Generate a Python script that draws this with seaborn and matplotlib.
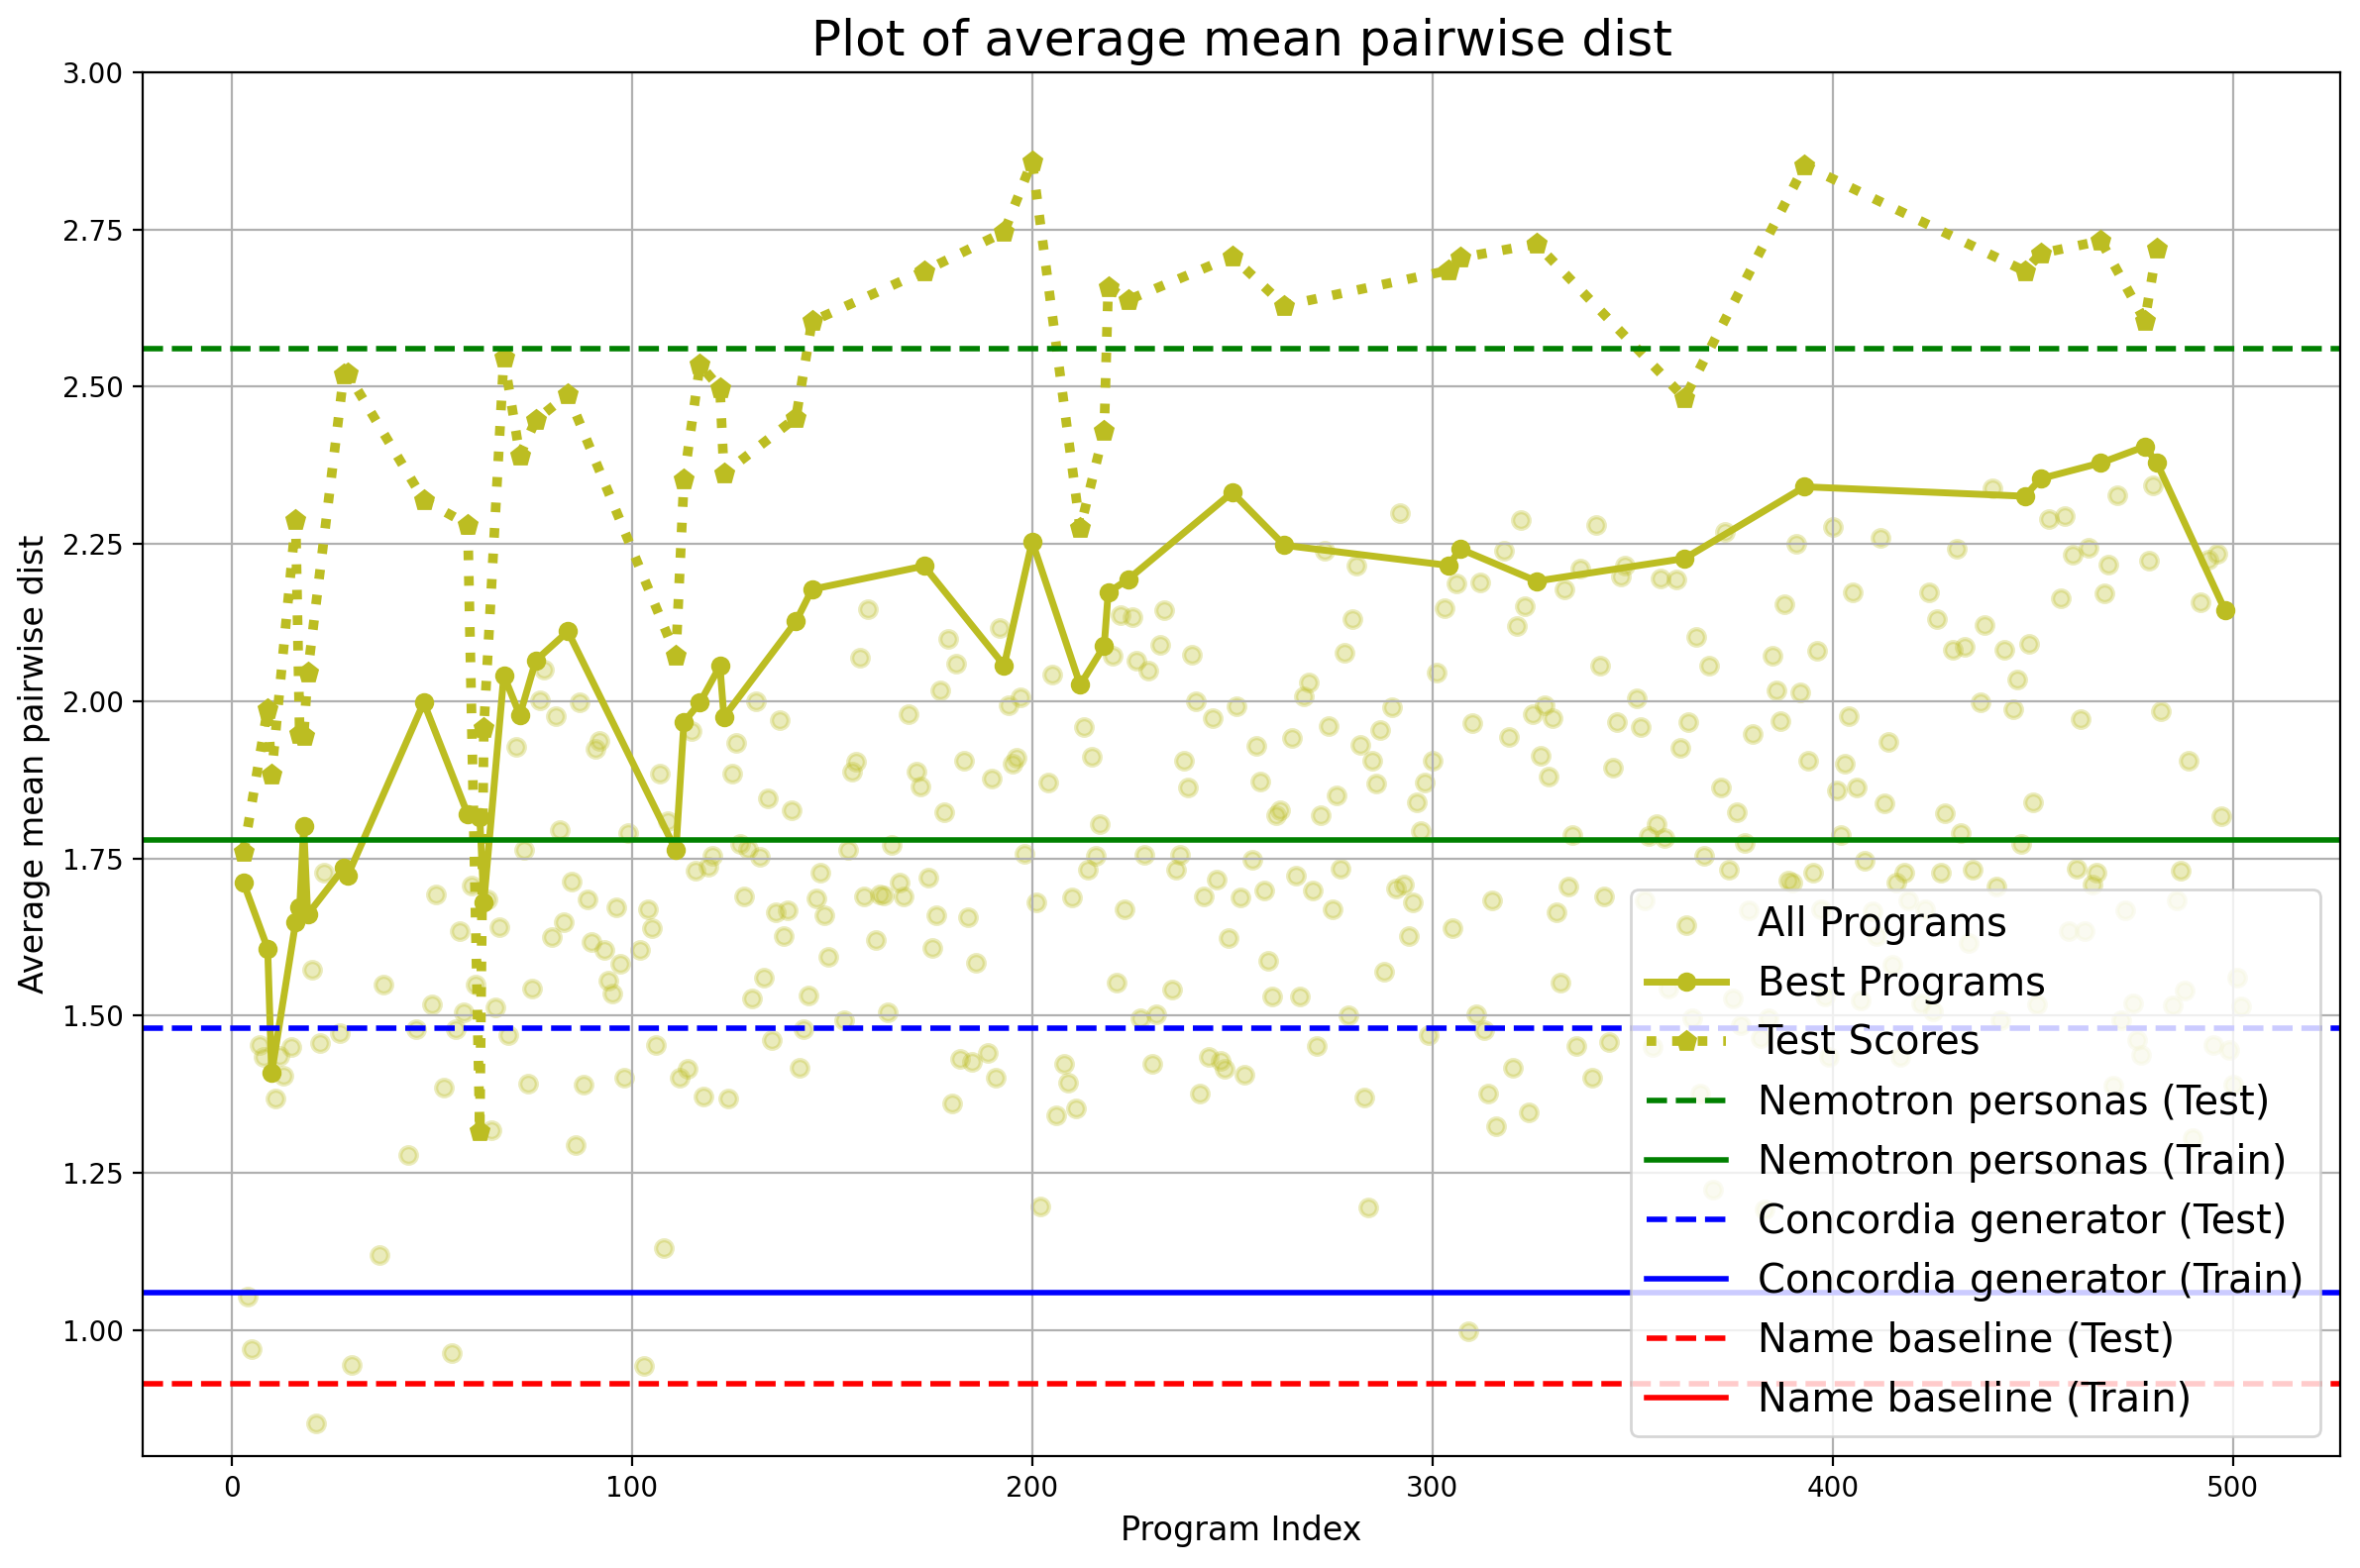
import matplotlib
matplotlib.use('Agg')
import matplotlib.pyplot as plt
import seaborn as sns

OLIVE = '#bcbd22'

# every evaluated program: index and average mean pairwise dist
all_idx = [
    78, 77, 81, 71, 82, 73, 23, 51, 60, 64,
    57, 67, 83, 80, 20, 38, 50, 61, 58, 66, 75, 27, 46, 56, 69, 7, 8, 12, 15, 22,
    13, 11, 53, 74, 65, 44, 37, 4, 5, 30, 55, 21,
    159, 157, 87, 92, 91, 107, 115, 126, 125, 131, 137, 134, 140, 169, 156, 155, 171, 172, 99, 109,
    127, 129, 132, 120, 119, 116, 147, 154, 165, 85, 89, 96, 104, 128, 136, 139, 146, 148, 158, 162,
    163, 167, 168,
    105, 90, 93, 102, 97, 94, 95, 138, 161, 149, 133, 130, 144, 153, 164, 143, 135, 106, 114, 112,
    142, 88, 98, 118, 124, 86, 108, 103,
    233, 222, 225, 192, 179, 181, 177, 205, 220, 226, 232, 229, 240, 194, 197, 241, 245, 251, 213, 215,
    183, 190, 195, 196, 204, 238, 239, 256, 257, 178, 217, 198, 216, 228, 237, 255, 174, 214, 236, 246,
    258, 243, 252, 210, 201, 223, 176, 184,
    175, 186, 249, 259, 260, 221, 235, 227, 231, 182, 185, 189, 191, 180, 208, 209, 206, 211, 230, 244,
    247, 248, 253, 242, 202,
    292, 322, 341, 273, 281, 318, 337, 306, 312, 333, 303, 323, 321, 280, 278, 342, 301, 269, 268, 290,
    328, 325, 330, 310, 319, 274, 287, 265, 282, 285, 300, 327, 329, 298, 286, 276, 296, 262, 261, 272,
    297, 335, 266, 277, 270, 275, 291, 293, 295, 315, 334, 331, 343,
    305, 294, 288, 332, 267, 279, 311, 299, 313, 271, 336, 344, 320, 340, 283, 314, 324, 316, 284, 309,
    373, 400, 412, 391, 347, 348, 357, 361, 405, 424, 426, 388, 366, 369, 385, 396, 430, 386, 392, 351,
    346, 352, 364, 387, 380, 404, 414, 362, 345, 394, 403, 372, 401, 406, 413, 376, 428, 356, 354, 358,
    378, 402, 368, 374, 408, 389, 390, 395, 418, 427, 416,
    379, 397, 410, 423, 419, 353, 411, 415, 359, 375, 398, 407, 422, 425, 365, 384, 377, 355, 382, 399,
    417, 367, 370, 383,
    440, 471, 480, 454, 458, 431, 460, 464, 469, 479, 494, 496, 457, 468, 492, 438, 433, 443, 449, 446,
    437, 445, 462, 482, 489, 450, 497, 432, 447, 435, 441, 461, 466, 465, 487, 486, 473,
    434, 459, 463, 501, 502, 475, 488, 485, 451, 472, 442, 476, 477, 495, 499, 470, 500, 490,
]
all_dist = [
    2.051, 2.002, 1.977, 1.927, 1.795, 1.763, 1.727, 1.693, 1.707, 1.685,
    1.634, 1.641, 1.648, 1.625, 1.573, 1.550, 1.518, 1.549, 1.506, 1.513, 1.543, 1.472, 1.478, 1.479, 1.469, 1.453, 1.435, 1.436, 1.451, 1.457,
    1.404, 1.368, 1.385, 1.392, 1.318, 1.279, 1.120, 1.054, 0.970, 0.945, 0.964, 0.852,
    2.147, 2.070, 1.998, 1.937, 1.924, 1.885, 1.953, 1.934, 1.885, 2.000, 1.970, 1.845, 1.827, 1.980, 1.904, 1.888, 1.888, 1.865, 1.791, 1.810,
    1.773, 1.766, 1.752, 1.754, 1.737, 1.730, 1.728, 1.763, 1.772, 1.713, 1.685, 1.672, 1.670, 1.690, 1.664, 1.668, 1.686, 1.660, 1.689, 1.693,
    1.691, 1.711, 1.690,
    1.639, 1.617, 1.604, 1.604, 1.582, 1.556, 1.536, 1.627, 1.621, 1.594, 1.560, 1.528, 1.532, 1.493, 1.506, 1.478, 1.461, 1.453, 1.416, 1.401,
    1.418, 1.390, 1.401, 1.371, 1.368, 1.295, 1.131, 0.943,
    2.145, 2.137, 2.134, 2.116, 2.099, 2.060, 2.017, 2.043, 2.073, 2.065, 2.090, 2.049, 2.074, 1.994, 2.006, 2.000, 1.973, 1.992, 1.959, 1.912,
    1.906, 1.877, 1.901, 1.910, 1.871, 1.905, 1.863, 1.929, 1.873, 1.823, 1.805, 1.758, 1.754, 1.756, 1.756, 1.748, 1.719, 1.732, 1.732, 1.716,
    1.699, 1.690, 1.688, 1.688, 1.681, 1.670, 1.660, 1.656,
    1.608, 1.584, 1.623, 1.587, 1.530, 1.553, 1.541, 1.496, 1.503, 1.431, 1.426, 1.441, 1.401, 1.360, 1.424, 1.393, 1.341, 1.352, 1.424, 1.435,
    1.428, 1.416, 1.407, 1.376, 1.197,
    2.299, 2.288, 2.281, 2.240, 2.215, 2.240, 2.211, 2.188, 2.189, 2.178, 2.148, 2.151, 2.119, 2.130, 2.077, 2.057, 2.045, 2.030, 2.008, 1.990,
    1.994, 1.979, 1.973, 1.965, 1.943, 1.961, 1.955, 1.941, 1.931, 1.905, 1.905, 1.913, 1.880, 1.871, 1.869, 1.850, 1.840, 1.826, 1.819, 1.819,
    1.793, 1.787, 1.723, 1.734, 1.699, 1.670, 1.703, 1.709, 1.680, 1.684, 1.706, 1.664, 1.690,
    1.639, 1.627, 1.570, 1.553, 1.530, 1.501, 1.502, 1.470, 1.477, 1.452, 1.452, 1.458, 1.418, 1.401, 1.370, 1.376, 1.347, 1.325, 1.195, 0.998,
    2.270, 2.277, 2.260, 2.250, 2.199, 2.215, 2.195, 2.194, 2.173, 2.173, 2.131, 2.155, 2.102, 2.056, 2.072, 2.080, 2.082, 2.018, 2.014, 2.004,
    1.967, 1.959, 1.967, 1.969, 1.948, 1.977, 1.936, 1.926, 1.895, 1.905, 1.901, 1.863, 1.859, 1.863, 1.838, 1.824, 1.822, 1.805, 1.785, 1.783,
    1.775, 1.787, 1.754, 1.733, 1.746, 1.715, 1.711, 1.728, 1.728, 1.728, 1.712,
    1.668, 1.669, 1.666, 1.669, 1.684, 1.684, 1.627, 1.581, 1.544, 1.527, 1.530, 1.524, 1.519, 1.507, 1.496, 1.496, 1.485, 1.451, 1.465, 1.434,
    1.434, 1.377, 1.223, 1.192,
    2.338, 2.327, 2.344, 2.289, 2.295, 2.242, 2.233, 2.244, 2.217, 2.224, 2.225, 2.234, 2.164, 2.172, 2.158, 2.121, 2.086, 2.082, 2.092, 2.034,
    1.998, 1.988, 1.971, 1.984, 1.905, 1.840, 1.818, 1.791, 1.773, 1.732, 1.705, 1.734, 1.727, 1.709, 1.730, 1.684, 1.668,
    1.616, 1.635, 1.635, 1.561, 1.515, 1.520, 1.540, 1.516, 1.518, 1.493, 1.493, 1.462, 1.438, 1.453, 1.446, 1.389, 1.391, 1.306,
]

# best programs so far and their test scores
best_idx = [3, 9, 10, 16, 17, 18, 19, 28, 29, 48, 59, 62, 63, 68, 72, 76, 84, 111, 113, 117,
            122, 123, 141, 145, 173, 193, 200, 212, 218, 219, 224, 250, 263, 304, 307, 326, 363, 393, 448, 452,
            467, 478, 481, 498]
best_dist = [1.711, 1.607, 1.409, 1.649, 1.672, 1.802, 1.661, 1.735, 1.723, 1.998,
             1.820, 1.815, 1.680, 2.041, 1.978, 2.065, 2.111, 1.763, 1.967, 1.998,
             2.056, 1.975, 2.127, 2.178, 2.215, 2.057, 2.254, 2.026, 2.088, 2.173,
             2.194, 2.332, 2.248, 2.216, 2.242, 2.191, 2.227, 2.341, 2.326, 2.354,
             2.379, 2.405, 2.379, 2.145]
test_idx = best_idx[:-1]  # last best program has no test score
test_dist = [1.760, 1.988, 1.884, 2.288, 1.948, 1.945, 2.045, 2.519, 2.521, 2.320,
             2.281, 1.317, 1.957, 2.547, 2.391, 2.447, 2.488, 2.073, 2.352, 2.535,
             2.498, 2.362, 2.451, 2.604, 2.684, 2.746, 2.859, 2.275, 2.430, 2.658,
             2.638, 2.707, 2.629, 2.685, 2.705, 2.727, 2.482, 2.852, 2.684, 2.712,
             2.732, 2.605, 2.720]

# reference baselines
baseline_labels = ['Nemotron personas (Test)', 'Nemotron personas (Train)',
                   'Concordia generator (Test)', 'Concordia generator (Train)',
                   'Name baseline (Test)', 'Name baseline (Train)']
baseline_values = [2.56, 1.78, 1.48, 1.06, 0.915, 0.70]
baseline_colors = ['green', 'green', 'blue', 'blue', 'red', 'red']
baseline_styles = ['--', '-', '--', '-', '--', '-']

fig = plt.figure(figsize=(11.91, 7.915), dpi=200)
ax = fig.add_axes([0.0605, 0.0714, 0.9311, 0.8825])

sns.scatterplot(x=all_idx, y=all_dist, color=OLIVE, alpha=0.3, s=36,
                edgecolor=OLIVE, linewidth=1.5, label='All Programs', ax=ax)
sns.lineplot(x=best_idx, y=best_dist, color=OLIVE, marker='o', markersize=6,
             markeredgecolor=OLIVE, markeredgewidth=1, linewidth=2.5,
             errorbar=None, label='Best Programs', ax=ax)
sns.lineplot(x=test_idx, y=test_dist, color=OLIVE, marker='p', markersize=7,
             markeredgecolor=OLIVE, markeredgewidth=1, linewidth=3.5, linestyle=':',
             errorbar=None, label='Test Scores', ax=ax)

for lab, val, col, ls in zip(baseline_labels, baseline_values, baseline_colors, baseline_styles):
    ax.axhline(val, color=col, linestyle=ls, linewidth=2, label=lab)

ax.set_xlim(-22.2, 526.8)
ax.set_ylim(0.80, 3.0)
ax.grid(True)
ax.set_title('Plot of average mean pairwise dist', fontsize=18)
ax.set_xlabel('Program Index', fontsize=12)
ax.set_ylabel('Average mean pairwise dist', fontsize=12)
ax.legend(loc='lower right', fontsize=14.4)

fig.savefig('out.png', dpi=200)
plt.close(fig)
